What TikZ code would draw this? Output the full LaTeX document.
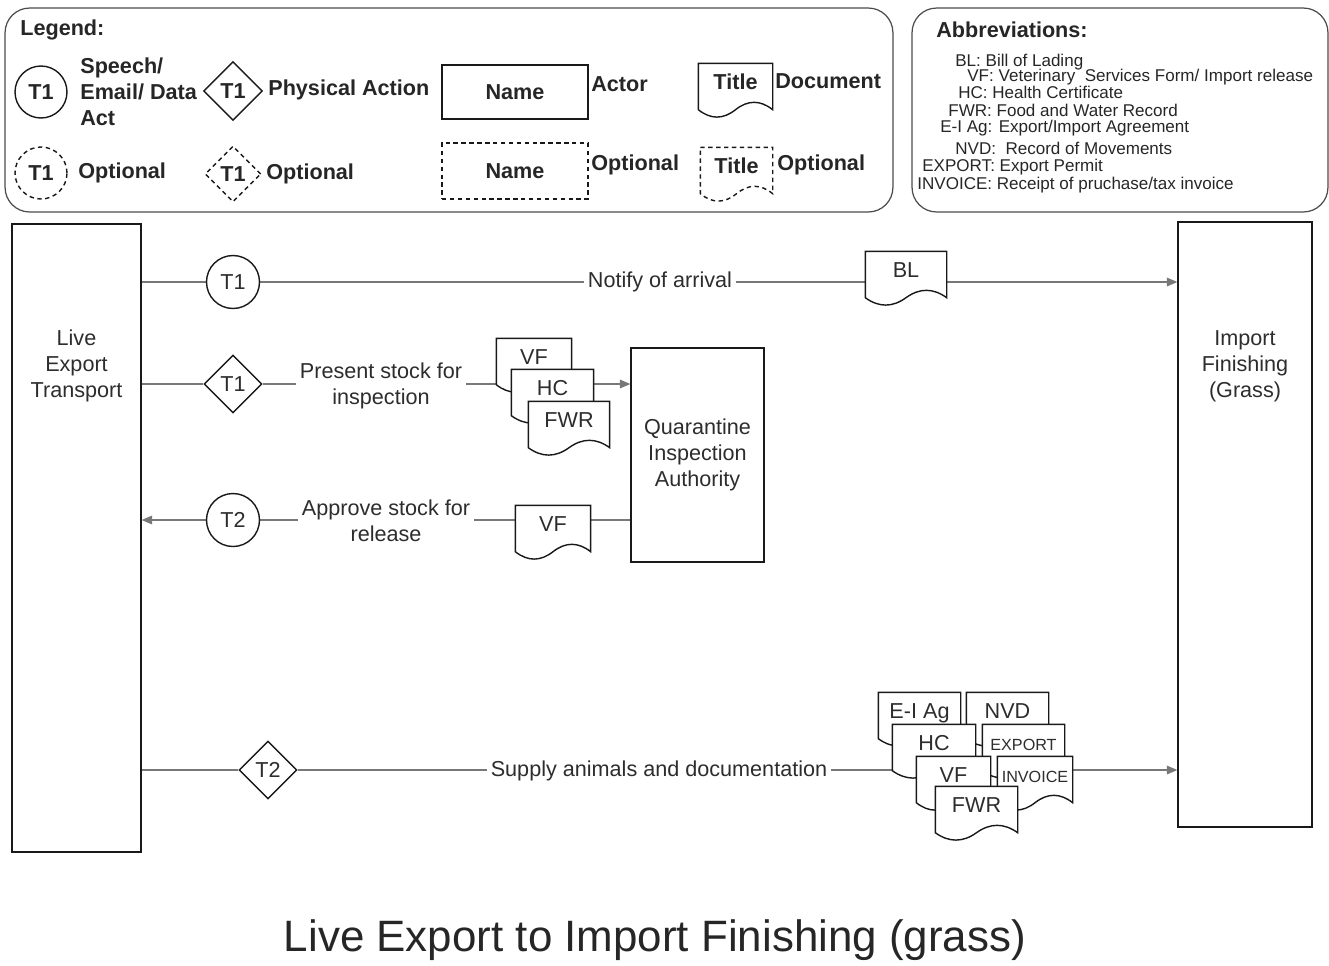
\documentclass[tikz,border=0pt]{standalone}
\usepackage{fontspec}
\setmainfont{Liberation Sans}
\usetikzlibrary{arrows.meta,backgrounds,positioning,shapes.geometric}
\definecolor{lnclr}{RGB}{120,120,120}
\definecolor{txtclr}{RGB}{45,45,45}
\newcommand\mainfont{\fontsize{12.3}{14.7}\selectfont}
\newcommand\legfont{\fontsize{12.3}{14.7}\selectfont\bfseries}

% document shape: box with a wavy lower edge
\makeatletter
\pgfdeclareshape{document}{%
  \inheritsavedanchors[from=rectangle]%
  \inheritanchorborder[from=rectangle]%
  \inheritanchor[from=rectangle]{center}%
  \inheritanchor[from=rectangle]{text}%
  \inheritanchor[from=rectangle]{base}%
  \inheritanchor[from=rectangle]{mid}%
  \inheritanchor[from=rectangle]{north}%
  \inheritanchor[from=rectangle]{south}%
  \inheritanchor[from=rectangle]{east}%
  \inheritanchor[from=rectangle]{west}%
  \inheritanchor[from=rectangle]{north east}%
  \inheritanchor[from=rectangle]{north west}%
  \inheritanchor[from=rectangle]{south east}%
  \inheritanchor[from=rectangle]{south west}%
  \backgroundpath{%
    \southwest \edef\dcxa{\the\pgf@x}\edef\dcya{\the\pgf@y}%
    \northeast \edef\dcxb{\the\pgf@x}\edef\dcyb{\the\pgf@y}%
    \pgfmathsetmacro\dxa{\dcxa}\pgfmathsetmacro\dya{\dcya}%
    \pgfmathsetmacro\dxb{\dcxb}\pgfmathsetmacro\dyb{\dcyb}%
    \pgfmathsetmacro\dcw{(\dxb-\dxa)/6}%
    \pgfmathsetmacro\dch{0.212*(\dyb-\dya)}%
    \pgfmathsetmacro\dcm{(\dxa+\dxb)/2}%
    \pgfpathmoveto{\pgfpoint{\dxa}{\dyb}}%
    \pgfpathlineto{\pgfpoint{\dxb}{\dyb}}%
    \pgfpathlineto{\pgfpoint{\dxb}{\dya}}%
    \pgfpathcurveto{\pgfpoint{\dxb-\dcw}{\dya+\dch}}{\pgfpoint{\dcm+\dcw}{\dya+\dch}}{\pgfpoint{\dcm}{\dya}}%
    \pgfpathcurveto{\pgfpoint{\dcm-\dcw}{\dya-\dch}}{\pgfpoint{\dxa+\dcw}{\dya-\dch}}{\pgfpoint{\dxa}{\dya}}%
    \pgfpathclose
  }%
}
\makeatother

\begin{document}
\begin{tikzpicture}[x=0.02cm,y=-0.02cm,
    every node/.style={font=\mainfont,text=txtclr},
    legtxt/.style={anchor=west,inner sep=0pt,align=left,text=black!85,font=\legfont},
    abbr/.style={anchor=west,inner sep=0pt,text=black!85,font=\fontsize{9.7}{11.6}\selectfont},
    panel/.style={draw=black!70,line width=.7pt,rounded corners=14pt,inner sep=0pt},
    actor/.style={draw=black!90,line width=.8pt,inner sep=0pt,align=center},
    speech/.style={circle,draw=black!90,line width=.8pt,fill=white,minimum size=1.06cm,inner sep=0pt},
    act/.style={diamond,draw=black!90,line width=.8pt,fill=white,minimum size=1.16cm,inner sep=0pt},
    doc/.style={shape=document,draw=black!90,line width=.8pt,fill=white,inner sep=0pt,minimum height=.9cm,
      text height=8.8pt,text depth=5.6pt},
    lbl/.style={fill=white,align=center,inner sep=2pt},
    optline/.style={dash pattern=on 2.5pt off 2pt},
    flow/.style={draw=lnclr,line width=.6pt},
    arr/.style={flow,-{Triangle[length=6pt,width=5pt]}}]
  \useasboundingbox (0,0) rectangle (1329,965);

  % legend
  \node[panel,minimum width=17.76cm,minimum height=4.08cm] (legend) at (449,110) {};
  \node[legtxt] (legtitle) at (20,30) {Legend:};
  \node[speech,minimum size=1.04cm,font=\legfont,text=black!85] (lgspeech) at (41,92) {T1};
  \node[legtxt] (lgspeechtxt) at (80,92) {Speech/\\Email/ Data\\Act};
  \node[act,minimum size=1.18cm,font=\legfont,text=black!85] (lgact) at (233,91) {T1};
  \node[legtxt] (lgacttxt) at (268,90) {Physical Action};
  \node[actor,minimum width=2.92cm,minimum height=1.08cm,font=\legfont,text=black!85] (lgactor) at (515,92) {Name};
  \node[legtxt] (lgactortxt) at (591,84) {Actor};
  \node[doc,minimum width=1.46cm,font=\legfont,text=black!85] (lgdoc) at (735.5,86.5) {Title};
  \node[legtxt] (lgdoctxt) at (775,81) {Document};
  \node[speech,optline,minimum size=1.04cm,font=\legfont,text=black!85] (lgspeechopt) at (41,173) {T1};
  \node[legtxt] (lgspeechopttxt) at (78,173) {Optional};
  \node[act,optline,minimum size=1.12cm,font=\legfont,text=black!85] (lgactopt) at (233,174) {T1};
  \node[legtxt] (lgactopttxt) at (266,174) {Optional};
  \node[actor,optline,minimum width=2.92cm,minimum height=1.12cm,font=\legfont,text=black!85] (lgactoropt) at (515,171) {Name};
  \node[legtxt] (lgactoropttxt) at (591,165) {Optional};
  \node[doc,optline,minimum width=1.42cm,font=\legfont,text=black!85] (lgdocopt) at (736.5,170.5) {Title};
  \node[legtxt] (lgdocopttxt) at (777,165) {Optional};

  % abbreviations
  \node[panel,minimum width=8.32cm,minimum height=4.08cm] (abbrev) at (1120,110) {};
  \node[legtxt] (abbrevtitle) at (936,30) {Abbreviations:};
  \foreach \x/\y/\t in {955/62/{BL: Bill of Lading},
      967/77/{VF: Veterinary\ \ Services Form/ Import release},
      958/92/{HC: Health Certificate},
      948/110/{FWR: Food and Water Record},
      940/128/{E-I Ag: Export/Import Agreement},
      955/148/{NVD:\ \ Record of Movements},
      922/167/{EXPORT: Export Permit},
      917/185/{INVOICE: Receipt of pruchase/tax invoice}}
    \node[abbr] (ab\y) at (\x,\y) {\t};

  % actors
  \node[actor,minimum width=2.58cm,minimum height=12.56cm] (live) at (76.5,538) {};
  \node[align=center] (livetxt) at (76.5,366) {Live\\Export\\Transport};
  \node[actor,minimum width=2.68cm,minimum height=12.1cm] (imp) at (1245,524.5) {};
  \node[align=center] (imptxt) at (1245,366) {Import\\Finishing\\(Grass)};
  \node[actor,minimum width=2.66cm,minimum height=4.28cm] (qia) at (697.5,455) {Quarantine\\Inspection\\Authority};

  % notify of arrival
  \node[speech] (t1a) at (233,282) {T1};
  \node[lbl] (notify) at (660,282) {Notify of arrival};
  \node[doc,minimum width=1.6cm] (bl) at (906,274.5) {BL};

  % present stock
  \node[act] (t1b) at (233,384) {T1};
  \node[lbl] (present) at (381,386) {Present stock for\\inspection};
  \node[doc,minimum width=1.48cm] (vfa) at (534,361.5) {VF};
  \node[doc,minimum width=1.62cm] (hca) at (552.5,392.5) {HC};
  \node[doc,minimum width=1.6cm] (fwra) at (569,424.5) {FWR};

  % approve stock
  \node[speech] (t2a) at (233,520) {T2};
  \node[lbl] (approve) at (386,521) {Approve stock for\\release};
  \node[doc,minimum width=1.48cm] (vfb) at (553,528.5) {VF};

  % supply animals
  \node[act] (t2b) at (268,770) {T2};
  \node[lbl] (supply) at (659,771) {Supply animals and documentation};
  \node[doc,minimum width=1.62cm] (eiag) at (919.5,715.5) {E-I Ag};
  \node[doc,minimum width=1.62cm] (nvd) at (1007.5,715.5) {NVD};
  \node[doc,minimum width=1.64cm] (hcb) at (934,747.5) {HC};
  \node[doc,minimum width=1.62cm,font=\fontsize{9.2}{11}\selectfont] (export) at (1023.5,747.5) {EXPORT};
  \node[doc,minimum width=1.46cm] (vfc) at (953.5,779.5) {VF};
  \node[doc,minimum width=1.48cm,font=\fontsize{9.2}{11}\selectfont] (invoice) at (1035,779.5) {INVOICE};
  \node[doc,minimum width=1.62cm] (fwrb) at (976.5,809.5) {FWR};

  \node[font=\fontsize{25}{30}\selectfont,text=black!85] (title) at (655,940) {Live Export to Import Finishing (grass)};

  \begin{pgfonlayer}{background}
    \draw[flow] (live.east |- t1a) -- (t1a);
    \draw[arr] (t1a) -- (imp.west |- t1a);
    \draw[flow] (live.east |- t1b) -- (t1b);
    \draw[arr] (t1b) -- (qia.west |- t1b);
    \draw[arr] (qia.west |- t2a) -- (live.east |- t2a);
    \draw[flow] (live.east |- t2b) -- (t2b);
    \draw[arr] (t2b) -- (imp.west |- t2b);
  \end{pgfonlayer}
\end{tikzpicture}
\end{document}
